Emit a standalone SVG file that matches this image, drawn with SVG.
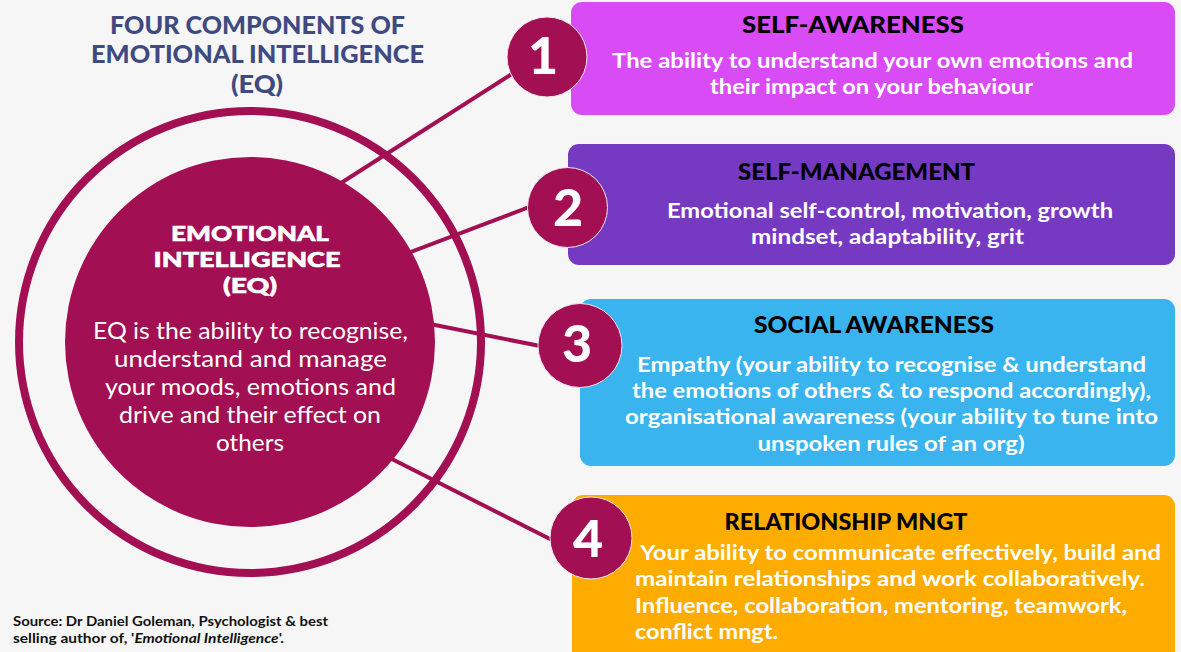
<svg xmlns="http://www.w3.org/2000/svg" width="1181" height="652" viewBox="0 0 1181 652">
<style>
.title{font-family:Lato,"Liberation Sans",sans-serif;font-weight:900;font-size:24px;fill:#3E4A80;text-anchor:middle}
.ctitle{font-family:Lato,"Liberation Sans",sans-serif;font-weight:900;font-size:21.5px;fill:#fff;text-anchor:middle;stroke:#fff;stroke-width:0.6}
.cbody{font-family:Lato,"Liberation Sans",sans-serif;font-weight:400;font-size:23px;fill:#fff;text-anchor:middle}
.btitle{font-family:Lato,"Liberation Sans",sans-serif;font-weight:900;font-size:22px;fill:#000;text-anchor:middle}
.bbody{font-family:Lato,"Liberation Sans",sans-serif;font-weight:700;font-size:21px;fill:#fff;text-anchor:middle}
.bleft{font-family:Lato,"Liberation Sans",sans-serif;font-weight:700;font-size:21px;fill:#fff}
.num{font-family:Lato,"Liberation Sans",sans-serif;font-weight:900;font-size:52px;fill:#fff;text-anchor:middle}
.numc{fill:#A20F52;stroke:#f3e6ec;stroke-width:1}
.conn{stroke:#A20F52;stroke-width:4;fill:none;stroke-linecap:round}
.src{font-family:Lato,"Liberation Sans",sans-serif;font-weight:700;font-size:13px;fill:#111}
</style>
<rect width="1181" height="652" fill="#F6F6F6"/>

<g id="title">
<text class="title" x="257.5" y="34" textLength="295" lengthAdjust="spacingAndGlyphs">FOUR COMPONENTS OF</text>
<text class="title" x="257.5" y="63" textLength="333" lengthAdjust="spacingAndGlyphs">EMOTIONAL INTELLIGENCE</text>
<text class="title" x="257" y="93" textLength="52" lengthAdjust="spacingAndGlyphs">(EQ)</text>
</g>

<g id="outer-ring">
<circle cx="250" cy="342" r="231" fill="none" stroke="#A20F52" stroke-width="8"/>
</g>

<g id="connectors">
<line class="conn" x1="330" y1="190" x2="515" y2="72"/>
<line class="conn" x1="400" y1="256" x2="532" y2="206"/>
<line class="conn" x1="420" y1="322" x2="540" y2="346"/>
<line class="conn" x1="380" y1="453" x2="550" y2="539"/>
</g>

<g id="center">
<circle cx="250" cy="342" r="185" fill="#A20F52"/>
<text class="ctitle" x="250" y="241" textLength="158" lengthAdjust="spacingAndGlyphs">EMOTIONAL</text>
<text class="ctitle" x="247" y="267" textLength="187" lengthAdjust="spacingAndGlyphs">INTELLIGENCE</text>
<text class="ctitle" x="250" y="293" textLength="54" lengthAdjust="spacingAndGlyphs">(EQ)</text>
<text class="cbody" x="250.5" y="339" textLength="315" lengthAdjust="spacingAndGlyphs">EQ is the ability to recognise,</text>
<text class="cbody" x="250.5" y="367" textLength="273" lengthAdjust="spacingAndGlyphs">understand and manage</text>
<text class="cbody" x="250.5" y="395" textLength="291" lengthAdjust="spacingAndGlyphs">your moods, emotions and</text>
<text class="cbody" x="250" y="423" textLength="262" lengthAdjust="spacingAndGlyphs">drive and their effect on</text>
<text class="cbody" x="250" y="451" textLength="68" lengthAdjust="spacingAndGlyphs">others</text>
</g>

<g id="box1">
<rect x="571" y="2" width="604" height="113" rx="11" fill="#D94CF5"/>
<text class="btitle" x="853" y="33" textLength="222" lengthAdjust="spacingAndGlyphs">SELF-AWARENESS</text>
<text class="bbody" x="872.5" y="68" textLength="521" lengthAdjust="spacingAndGlyphs">The ability to understand your own emotions and</text>
<text class="bbody" x="871.5" y="94" textLength="323" lengthAdjust="spacingAndGlyphs">their impact on your behaviour</text>
<circle class="numc" cx="547" cy="57" r="40"/>
<text class="num" x="543" y="74">1</text>
</g>

<g id="box2">
<rect x="568" y="144" width="607" height="121" rx="11" fill="#7639C2"/>
<text class="btitle" x="856.5" y="180" textLength="237" lengthAdjust="spacingAndGlyphs">SELF-MANAGEMENT</text>
<text class="bbody" x="890" y="218" textLength="446" lengthAdjust="spacingAndGlyphs">Emotional self-control, motivation, growth</text>
<text class="bbody" x="887.5" y="244" textLength="273" lengthAdjust="spacingAndGlyphs">mindset, adaptability, grit</text>
<circle class="numc" cx="567.5" cy="207.5" r="40"/>
<text class="num" x="568" y="226">2</text>
</g>

<g id="box3">
<rect x="580" y="299" width="595" height="167" rx="11" fill="#3AB4EE"/>
<text class="btitle" x="874" y="333" textLength="240" lengthAdjust="spacingAndGlyphs">SOCIAL AWARENESS</text>
<text class="bbody" x="891.5" y="372" textLength="509" lengthAdjust="spacingAndGlyphs">Empathy (your ability to recognise &amp; understand</text>
<text class="bbody" x="891.5" y="398" textLength="519" lengthAdjust="spacingAndGlyphs">the emotions of others &amp; to respond accordingly),</text>
<text class="bbody" x="891.5" y="424" textLength="533" lengthAdjust="spacingAndGlyphs">organisational awareness (your ability to tune into</text>
<text class="bbody" x="891" y="451" textLength="267" lengthAdjust="spacingAndGlyphs">unspoken rules of an org)</text>
<circle class="numc" cx="580" cy="345.5" r="42"/>
<text class="num" x="577" y="362">3</text>
</g>

<g id="box4">
<rect x="572" y="495" width="603" height="170" rx="11" fill="#FEAC00"/>
<text class="btitle" x="846" y="530" textLength="243" lengthAdjust="spacingAndGlyphs">RELATIONSHIP MNGT</text>
<text class="bleft" x="640" y="560" textLength="521" lengthAdjust="spacingAndGlyphs">Your ability to communicate effectively, build and</text>
<text class="bleft" x="635" y="586" textLength="510" lengthAdjust="spacingAndGlyphs">maintain relationships and work collaboratively.</text>
<text class="bleft" x="635" y="613" textLength="492" lengthAdjust="spacingAndGlyphs">Influence, collaboration, mentoring, teamwork,</text>
<text class="bleft" x="635" y="639" textLength="143" lengthAdjust="spacingAndGlyphs">conflict mngt.</text>
<circle class="numc" cx="591" cy="538" r="41"/>
<text class="num" x="588" y="557">4</text>
</g>

<g id="source">
<text class="src" x="13" y="626" textLength="315" lengthAdjust="spacingAndGlyphs">Source: Dr Daniel Goleman, Psychologist &amp; best</text>
<text class="src" x="13" y="643" textLength="271" lengthAdjust="spacingAndGlyphs">selling author of, '<tspan font-style="italic">Emotional Intelligence</tspan>'.</text>
</g>
</svg>
